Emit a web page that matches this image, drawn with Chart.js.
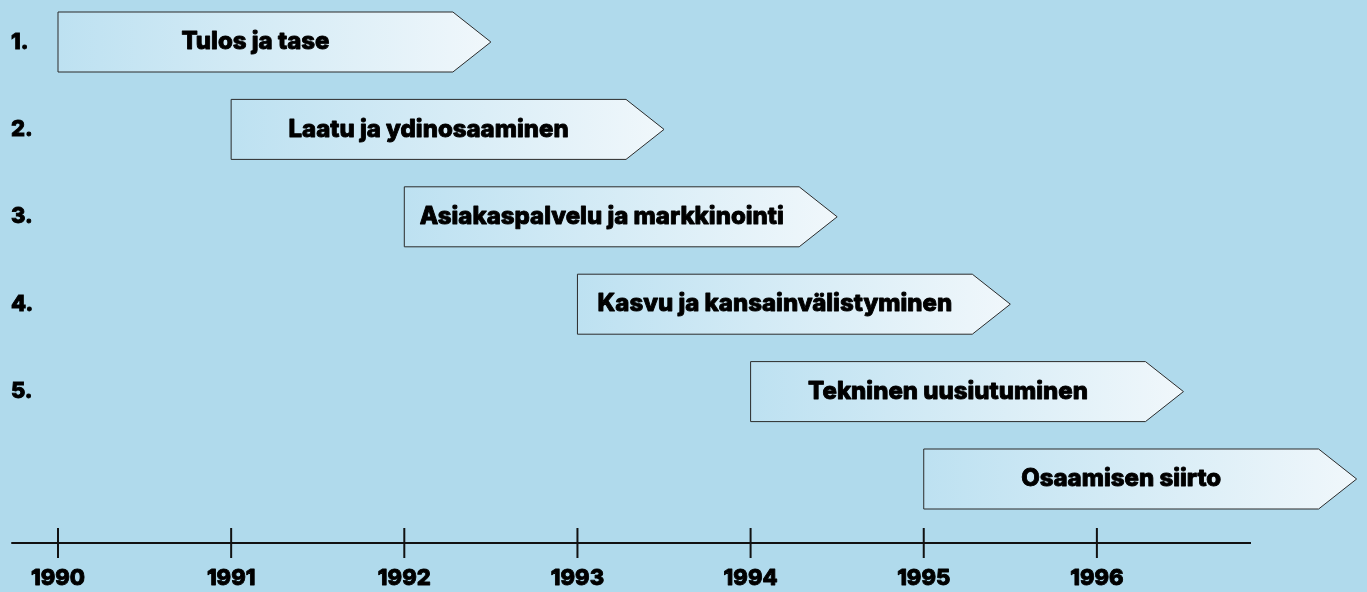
<!DOCTYPE html>
<html>
<head>
<meta charset="utf-8">
<script src="https://cdn.jsdelivr.net/npm/chart.js@4.4.1/dist/chart.umd.min.js"></script>
<style>
  html, body { margin: 0; padding: 0; background: #b0daec; }
  #wrap { width: 1367px; height: 592px; }
</style>
</head>
<body>
<div id="wrap"><canvas id="timeline" width="1367" height="592"></canvas></div>
<script>
// timeline of development phases, 1990-1996
const years = [1990, 1991, 1992, 1993, 1994, 1995, 1996];
const rowLabels = ['1.', '2.', '3.', '4.', '5.', ''];
const phases = [
    'Tulos ja tase',
    'Laatu ja ydinosaaminen',
    'Asiakaspalvelu ja markkinointi',
    'Kasvu ja kansainvälistyminen',
    'Tekninen uusiutuminen',
    'Osaamisen siirto',
];
const phaseStart = [1990, 1991, 1992, 1993, 1994, 1995];
const phaseEnd = [1992.5, 1993.5, 1994.5, 1995.5, 1996.5, 1997.5];

const BOLD = 'Inter, "Liberation Sans", sans-serif';
const TIP = 38;

// heavy black text: fill + thin stroke to thicken the glyphs
function heavyText(ctx, txt, x, y) {
    ctx.fillText(txt, x, y);
    ctx.lineWidth = 0.9;
    ctx.strokeStyle = '#000';
    ctx.strokeText(txt, x, y);
}

const arrowPlugin = {
    id: 'arrows',
    afterDatasetsDraw(chart) {
        const ctx = chart.ctx;
        const meta = chart.getDatasetMeta(0);
        ctx.save();
        ctx.lineJoin = 'miter';
        meta.data.forEach((bar, i) => {
            const { x, base, y, height } = bar.getProps(['x', 'base', 'y', 'height'], true);
            const top = y - height / 2, bot = y + height / 2;
            const grad = ctx.createLinearGradient(base, 0, x, 0);
            grad.addColorStop(0, '#bde1f1');
            grad.addColorStop(1, '#f0f7fb');
            ctx.beginPath();
            ctx.moveTo(base, top);
            ctx.lineTo(x - TIP, top);
            ctx.lineTo(x, y);
            ctx.lineTo(x - TIP, bot);
            ctx.lineTo(base, bot);
            ctx.closePath();
            ctx.fillStyle = grad;
            ctx.fill();
            ctx.lineWidth = 1;
            ctx.strokeStyle = '#2b2b2b';
            ctx.stroke();

            ctx.fillStyle = '#000';
            ctx.font = '800 24px ' + BOLD;
            ctx.textAlign = 'center';
            ctx.textBaseline = 'middle';
            ctx.lineJoin = 'round';
            heavyText(ctx, phases[i], (base + x - TIP) / 2, y);
            ctx.lineJoin = 'miter';
        });

        // row numbers
        const yScale = chart.scales.y;
        ctx.font = '800 22px ' + BOLD;
        ctx.textAlign = 'left';
        rowLabels.forEach((lbl, i) => {
            if (lbl) heavyText(ctx, lbl, 11, yScale.getPixelForValue(i));
        });

        // time axis
        const xScale = chart.scales.x;
        const axisY = chart.chartArea.bottom + 64;
        ctx.strokeStyle = '#111';
        ctx.lineWidth = 2;
        ctx.beginPath();
        ctx.moveTo(xScale.getPixelForValue(1989.73), axisY);
        ctx.lineTo(xScale.getPixelForValue(1996.89), axisY);
        ctx.stroke();
        years.forEach(yr => {
            const px = xScale.getPixelForValue(yr);
            ctx.strokeStyle = '#111';
            ctx.lineWidth = 2;
            ctx.beginPath();
            ctx.moveTo(px, axisY - 15);
            ctx.lineTo(px, axisY + 15);
            ctx.stroke();
        });
        ctx.font = '800 22px ' + BOLD;
        ctx.textAlign = 'center';
        ctx.lineJoin = 'round';
        years.forEach(yr => {
            heavyText(ctx, String(yr), xScale.getPixelForValue(yr), axisY + 35);
        });
        ctx.restore();
    }
};

new Chart(document.getElementById('timeline'), {
    type: 'bar',
    data: {
        labels: rowLabels,
        datasets: [{
            data: phaseStart.map((s, i) => [s, phaseEnd[i]]),
            backgroundColor: 'rgba(0,0,0,0)',
            borderWidth: 0,
            barThickness: 60,
        }]
    },
    options: {
        indexAxis: 'y',
        responsive: false,
        animation: false,
        layout: { padding: { top: 42, bottom: 113, left: 0, right: 0 } },
        scales: {
            x: { type: 'linear', min: 1989.665, max: 1997.56, display: false },
            y: { type: 'category', offset: false, display: false },
        },
        plugins: {
            legend: { display: false },
            tooltip: { enabled: false },
        }
    },
    plugins: [arrowPlugin]
});
</script>
</body>
</html>
